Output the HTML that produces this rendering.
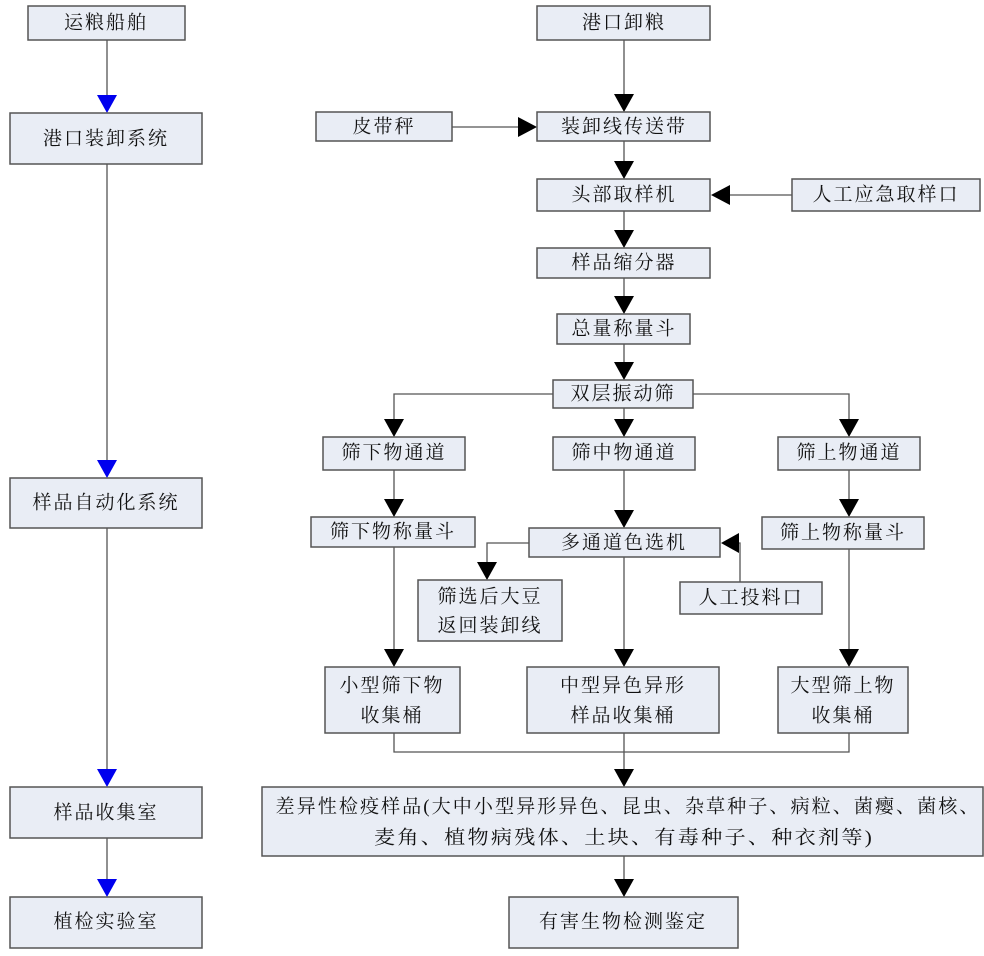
<!DOCTYPE html>
<html><head><meta charset="utf-8"><style>
html,body{margin:0;padding:0;background:#fff;}
svg text{font-family:"Liberation Serif","Noto Serif CJK SC",serif;font-size:19px;fill:#111;text-anchor:middle;dominant-baseline:central;letter-spacing:2px}
rect{fill:#e9edf5;stroke:#555;stroke-width:1.5}
line,polyline{stroke:#555;stroke-width:1.3;fill:none}
.a{fill:#000}.b{fill:#0000ee}
</style></head><body>
<svg width="984" height="951" viewBox="0 0 984 951" xmlns="http://www.w3.org/2000/svg">
<!-- left column -->
<line x1="107" y1="40" x2="107" y2="96"/><polygon class="b" points="97,95 117,95 107,113"/>
<line x1="107" y1="164" x2="107" y2="461"/><polygon class="b" points="97,460 117,460 107,478"/>
<line x1="107" y1="528" x2="107" y2="770"/><polygon class="b" points="97,769 117,769 107,787"/>
<line x1="107" y1="838" x2="107" y2="880"/><polygon class="b" points="97,879 117,879 107,897"/>
<rect x="28" y="6" width="157" height="34"/><text x="106" y="23">运粮船舶</text>
<rect x="10" y="113" width="192" height="51"/><text x="106" y="139">港口装卸系统</text>
<rect x="10" y="478" width="192" height="50"/><text x="106" y="503">样品自动化系统</text>
<rect x="10" y="787" width="192" height="51"/><text x="106" y="813">样品收集室</text>
<rect x="10" y="897" width="192" height="51"/><text x="106" y="922">植检实验室</text>

<!-- right main connectors -->
<line x1="624" y1="40" x2="624" y2="96"/><polygon class="a" points="614,94 634,94 624,112"/>
<line x1="452" y1="127" x2="520" y2="127"/><polygon class="a" points="518,117 518,137 537,127"/>
<line x1="624" y1="141" x2="624" y2="162"/><polygon class="a" points="614,161 634,161 624,179"/>
<line x1="792" y1="195" x2="728" y2="195"/><polygon class="a" points="730,185 730,205 711,195"/>
<line x1="624" y1="211" x2="624" y2="231"/><polygon class="a" points="614,230 634,230 624,248"/>
<line x1="624" y1="278" x2="624" y2="297"/><polygon class="a" points="614,296 634,296 624,314"/>
<line x1="624" y1="344" x2="624" y2="363"/><polygon class="a" points="614,362 634,362 624,380"/>
<polyline points="553,394 394,394 394,420"/><polygon class="a" points="384,419 404,419 394,437"/>
<polyline points="693,394 849,394 849,420"/><polygon class="a" points="839,419 859,419 849,437"/>
<line x1="624" y1="408" x2="624" y2="420"/><polygon class="a" points="614,419 634,419 624,437"/>
<line x1="394" y1="470" x2="394" y2="500"/><polygon class="a" points="384,499 404,499 394,517"/>
<line x1="849" y1="470" x2="849" y2="500"/><polygon class="a" points="839,499 859,499 849,517"/>
<line x1="624" y1="470" x2="624" y2="511"/><polygon class="a" points="614,510 634,510 624,528"/>
<polyline points="529,543 487,543 487,563"/><polygon class="a" points="477,562 497,562 487,580"/>
<polyline points="740,582 740,543 737,543"/><polygon class="a" points="739,533 739,553 721,543"/>
<line x1="394" y1="547" x2="394" y2="650"/><polygon class="a" points="384,649 404,649 394,667"/>
<line x1="849" y1="549" x2="849" y2="650"/><polygon class="a" points="839,649 859,649 849,667"/>
<line x1="624" y1="557" x2="624" y2="650"/><polygon class="a" points="614,649 634,649 624,667"/>
<polyline points="394,733 394,752 849,752 849,733"/>
<line x1="624" y1="733" x2="624" y2="770"/><polygon class="a" points="614,769 634,769 624,787"/>
<line x1="624" y1="856" x2="624" y2="880"/><polygon class="a" points="614,879 634,879 624,897"/>

<!-- right boxes -->
<rect x="537" y="6" width="173" height="34"/><text x="624" y="23">港口卸粮</text>
<rect x="316" y="112" width="136" height="29"/><text x="384" y="127">皮带秤</text>
<rect x="537" y="112" width="173" height="29"/><text x="624" y="127">装卸线传送带</text>
<rect x="537" y="179" width="173" height="32"/><text x="624" y="195">头部取样机</text>
<rect x="792" y="179" width="188" height="32"/><text x="886" y="195">人工应急取样口</text>
<rect x="537" y="248" width="173" height="30"/><text x="624" y="263">样品缩分器</text>
<rect x="557" y="314" width="133" height="30"/><text x="624" y="329">总量称量斗</text>
<rect x="553" y="380" width="140" height="28"/><text x="623" y="394">双层振动筛</text>
<rect x="323" y="437" width="142" height="33"/><text x="394" y="453">筛下物通道</text>
<rect x="553" y="437" width="142" height="33"/><text x="624" y="453">筛中物通道</text>
<rect x="778" y="437" width="142" height="33"/><text x="849" y="453">筛上物通道</text>
<rect x="311" y="517" width="164" height="30"/><text x="393" y="532">筛下物称量斗</text>
<rect x="529" y="528" width="191" height="29"/><text x="624" y="543">多通道色选机</text>
<rect x="762" y="517" width="162" height="32"/><text x="843" y="533">筛上物称量斗</text>
<rect x="418" y="580" width="144" height="61"/><text x="490" y="597">筛选后大豆</text><text x="490" y="626">返回装卸线</text>
<rect x="680" y="582" width="142" height="32"/><text x="751" y="598">人工投料口</text>
<rect x="325" y="667" width="135" height="66"/><text x="392" y="686">小型筛下物</text><text x="392" y="716">收集桶</text>
<rect x="527" y="667" width="192" height="66"/><text x="623" y="686">中型异色异形</text><text x="623" y="716">样品收集桶</text>
<rect x="778" y="667" width="130" height="66"/><text x="843" y="686">大型筛上物</text><text x="843" y="716">收集桶</text>
<rect x="262" y="787" width="721" height="69"/>
<text x="628" y="807" textLength="705" lengthAdjust="spacingAndGlyphs">差异性检疫样品(大中小型异形异色、昆虫、杂草种子、病粒、菌瘿、菌核、</text>
<text x="624" y="838" textLength="500" lengthAdjust="spacingAndGlyphs">麦角、植物病残体、土块、有毒种子、种衣剂等)</text>
<rect x="509" y="897" width="229" height="51"/><text x="623" y="922">有害生物检测鉴定</text>
</svg>
</body></html>
